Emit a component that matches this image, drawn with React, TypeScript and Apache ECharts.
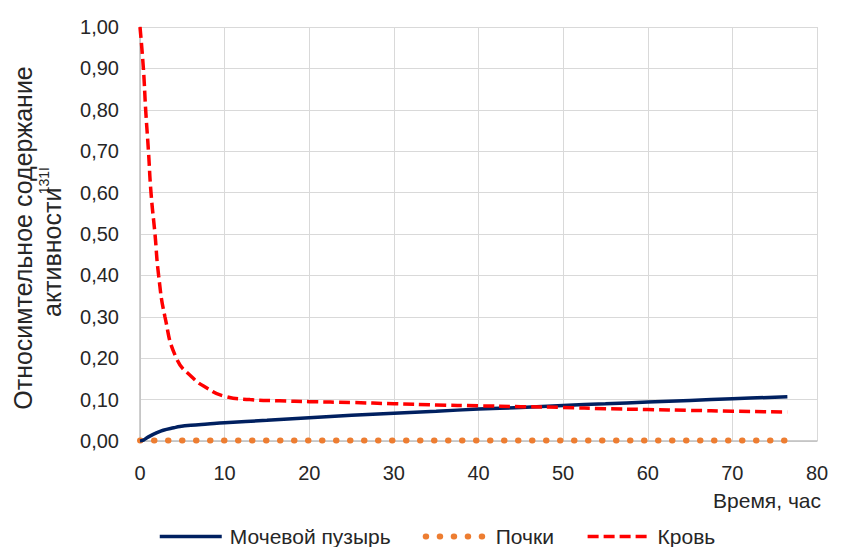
import React, { useEffect, useRef } from "react";
import * as echarts from "echarts";

const FONT = '"Liberation Sans", Arial, sans-serif';

const xTicks = [0, 10, 20, 30, 40, 50, 60, 70, 80];
const yTickStep = 0.1;

const bladderTime = [0, 0.4, 1, 2, 2.75, 4, 4.7, 6, 8, 10, 15, 20, 25, 30, 35, 40, 45, 50, 55, 60, 65, 70, 76.5];
const bladderValue = [0, 0.002, 0.01, 0.02, 0.026, 0.032, 0.035, 0.038, 0.041, 0.044, 0.05, 0.056, 0.062, 0.067, 0.072, 0.077, 0.081, 0.086, 0.09, 0.094, 0.098, 0.102, 0.107];

const kidneyTime = [0, 1, 2, 4, 10, 20, 40, 60, 76.5];
const kidneyValue = [0.001, 0.001, 0.001, 0.001, 0.001, 0.001, 0.001, 0.001, 0.001];

const bloodTime = [0, 0.4, 0.67, 1, 1.3, 1.77, 2.2, 2.95, 4.3, 6.1, 7.9, 10, 13, 16.5, 20, 25, 30, 35, 40, 45, 50, 55, 60, 65, 70, 76.5];
const bloodValue = [1.0, 0.9, 0.8, 0.7, 0.6, 0.5, 0.4, 0.3, 0.2, 0.155, 0.128, 0.108, 0.1, 0.097, 0.095, 0.093, 0.09, 0.087, 0.085, 0.083, 0.081, 0.078, 0.076, 0.074, 0.072, 0.07];

const seriesNames = ["Мочевой пузырь", "Почки", "Кровь"];
const xAxisTitle = "Время, час";
const yTitleLine1 = "Относимтельное содержание";
const yTitleLine2 = "активности";
const yTitleSup = "131I";

const zip = (xs: number[], ys: number[]) => xs.map((x, i) => [x, ys[i]]);

export default function App() {
  const ref = useRef<HTMLDivElement>(null);
  useEffect(() => {
    document.body.style.margin = "0";
    if (!ref.current) return;
    const chart = echarts.init(ref.current, null, { renderer: "svg" });
    chart.setOption({
      animation: false,
      backgroundColor: "#ffffff",
      textStyle: { fontFamily: FONT },
      grid: { left: 140, right: 33, top: 27, bottom: 106, containLabel: false },
      xAxis: {
        type: "value",
        min: xTicks[0],
        max: xTicks[xTicks.length - 1],
        interval: xTicks[1] - xTicks[0],
        axisLine: { show: true, lineStyle: { color: "#bfbfbf", width: 1.5 } },
        axisTick: { show: false },
        splitLine: { show: true, lineStyle: { color: "#d9d9d9", width: 1 } },
        axisLabel: { color: "#262626", fontSize: 20, fontFamily: FONT, margin: 22 },
      },
      yAxis: {
        type: "value",
        min: 0,
        max: 1,
        interval: yTickStep,
        axisLine: { show: true, lineStyle: { color: "#bfbfbf", width: 1.5 } },
        axisTick: { show: false },
        splitLine: { show: true, lineStyle: { color: "#d9d9d9", width: 1 } },
        axisLabel: {
          color: "#262626",
          fontSize: 20,
          fontFamily: FONT,
          margin: 21,
          formatter: (v: number) => v.toFixed(2).replace(".", ","),
        },
      },
      legend: {
        top: 521,
        left: 153,
        itemWidth: 62,
        itemHeight: 14,
        itemGap: 32,
        textStyle: { color: "#262626", fontSize: 21, fontFamily: FONT, padding: [0, 0, 0, 3] },
        data: [
          { name: seriesNames[0], lineStyle: { width: 3.5 } },
          { name: seriesNames[1], lineStyle: { width: 6 } },
          { name: seriesNames[2], lineStyle: { width: 3.5 } },
        ],
      },
      graphic: [
        {
          type: "text",
          right: 29,
          top: 490,
          style: { text: xAxisTitle, fill: "#262626", font: `21px ${FONT}` },
        },
        {
          type: "group",
          x: 36,
          y: 238,
          rotation: Math.PI / 2,
          children: [
            {
              type: "text",
              x: 0,
              y: -13,
              style: {
                text: yTitleLine1,
                fill: "#262626",
                font: `25px ${FONT}`,
                textAlign: "center",
                textVerticalAlign: "middle",
              },
            },
            {
              type: "text",
              x: -79,
              y: 16,
              style: {
                text: yTitleLine2,
                fill: "#262626",
                font: `25px ${FONT}`,
                textAlign: "left",
                textVerticalAlign: "middle",
              },
            },
            {
              type: "text",
              x: 71,
              y: 8,
              style: {
                text: yTitleSup,
                fill: "#262626",
                font: `14px ${FONT}`,
                textAlign: "right",
                textVerticalAlign: "middle",
              },
            },
          ],
        },
      ],
      series: [
        {
          name: seriesNames[0],
          type: "line",
          data: zip(bladderTime, bladderValue),
          symbol: "none",
          smooth: 0.4,
          lineStyle: { color: "#002060", width: 3.5 },
          itemStyle: { color: "#002060", opacity: 0 },
          z: 3,
        },
        {
          name: seriesNames[1],
          type: "line",
          data: zip(kidneyTime, kidneyValue),
          symbol: "none",
          lineStyle: { color: "#ed7d31", width: 6, type: [0.5, 13.5], cap: "round" },
          itemStyle: { color: "#ed7d31", opacity: 0 },
          z: 2,
        },
        {
          name: seriesNames[2],
          type: "line",
          data: zip(bloodTime, bloodValue),
          symbol: "none",
          smooth: 0.5,
          lineStyle: { color: "#ff0000", width: 3.5, type: [11, 5] },
          itemStyle: { color: "#ff0000", opacity: 0 },
          z: 4,
        },
      ],
    });
    return () => chart.dispose();
  }, []);
  return <div ref={ref} style={{ width: 850, height: 547 }} />;
}
